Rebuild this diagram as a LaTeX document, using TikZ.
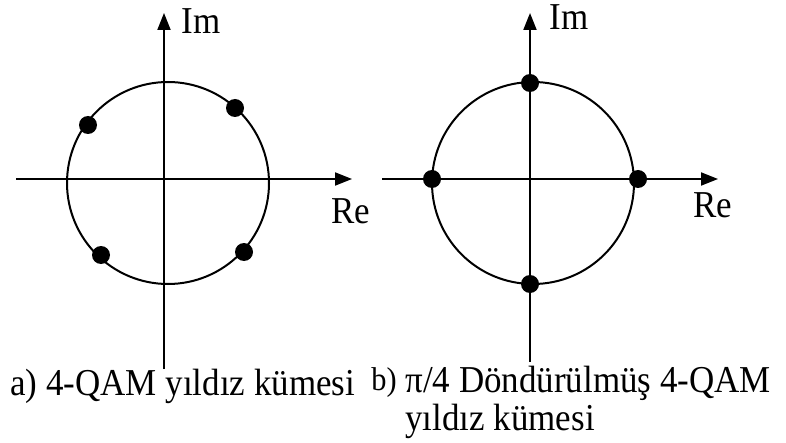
\documentclass[tikz,border=0pt]{standalone}
\usepackage{fontspec}
\setmainfont{Liberation Serif}[FakeStretch=0.92]
\usetikzlibrary{arrows.meta}

\begin{document}
\begin{tikzpicture}[
  x=0.5pt,y=-0.5pt,
  font=\fontsize{19}{22}\selectfont,
  axis/.style={-{Triangle[length=8.5pt,width=6.5pt]},line width=1pt},
  ring/.style={line width=1pt},
  dot/.style={circle,fill,inner sep=0pt,minimum size=9pt},
  lbl/.style={anchor=base west,inner sep=0pt}
]
\useasboundingbox (0,0) rectangle (786,443);
% a) 4-QAM
\coordinate (oa) at (168,183);
\coordinate (reaL) at (16,179);
\coordinate (reaR) at (352,179);
\coordinate (imaB) at (164,369);
\coordinate (imaT) at (164,13);
\draw[ring] (oa) circle[radius=101];
\draw[axis] (reaL) -- (reaR);
\draw[axis] (imaB) -- (imaT);
\node[dot] (a1) at (235,108) {};
\node[dot] (a2) at (88,125) {};
\node[dot] (a3) at (101,255) {};
\node[dot] (a4) at (244,252) {};
\node[lbl] (ima) at (181,34) {Im};
\node[lbl] (rea) at (331,224) {Re};
% b) pi/4 rotated
\coordinate (ob) at (533,183);
\coordinate (rebL) at (382,179);
\coordinate (rebR) at (718,179);
\coordinate (imbB) at (530,362);
\coordinate (imbT) at (530,13);
\draw[ring] (ob) circle[radius=101];
\draw[axis] (rebL) -- (rebR);
\draw[axis] (imbB) -- (imbT);
\node[dot] (b1) at (638,179) {};
\node[dot] (b2) at (530,83) {};
\node[dot] (b3) at (432,179) {};
\node[dot] (b4) at (530,284) {};
\node[lbl] (imb) at (549,30) {Im};
\node[lbl] (reb) at (693,218) {Re};
% captions
\node[lbl] (capa) at (10,395) {a) 4-QAM yıldız kümesi};
\node[lbl,font=\fontsize{16.5}{18}\selectfont] (capbl) at (371,390) {b)};
\node[lbl] (capb) at (405,392) {π/4 Döndürülmüş 4-QAM};
\node[lbl] (capb2) at (405,430) {yıldız kümesi};
\end{tikzpicture}
\end{document}
